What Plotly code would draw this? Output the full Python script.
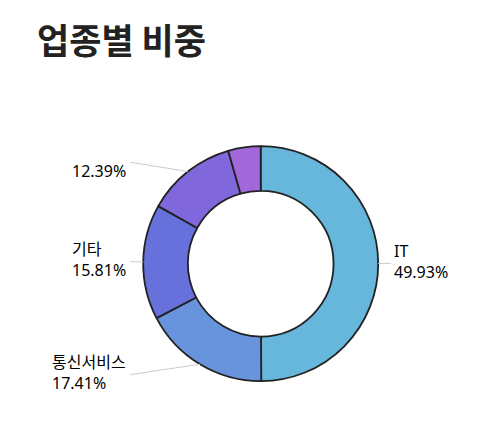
import math

import plotly.graph_objects as go

# slice data (percent of total)
sectors = ["IT", "통신서비스", "기타", "", ""]
shares = [49.93, 17.41, 15.81, 12.39, 4.46]
colors = ["#67b7dc", "#6794dc", "#6771dc", "#8067dc", "#a367dc"]
min_labelled = 5.0  # smaller slices get no label

W, H = 489, 434
PAGE_PAD = 8  # default body margin of the page
cx, cy, r = 260.7, 263.7, 117.5  # donut centre / outer radius in screen px


def px(x):
    return (x - PAGE_PAD) / W


def py(y):
    return 1 - (y - PAGE_PAD) / H


fig = go.Figure(
    go.Pie(
        labels=[s if s else f"slice{i}" for i, s in enumerate(sectors)],
        values=shares,
        sort=False,
        direction="clockwise",
        rotation=0,
        hole=0.62,
        textinfo="none",
        marker=dict(colors=colors, line=dict(color="#222222", width=1.8)),
        domain=dict(x=[px(cx - r), px(cx + r)], y=[py(cy + r), py(cy - r)]),
        showlegend=False,
    )
)

# outside labels with leader lines, placed from each slice's mid angle
total = sum(shares)
start = 0.0
annotations = []
shapes = []
for name, val in zip(sectors, shares):
    mid = math.radians((start + val / 2) / total * 360)
    start += val
    if val < min_labelled:
        continue
    ex, ey = cx + r * math.sin(mid), cy - r * math.cos(mid)
    ly = cy - (r + 12) * math.cos(mid)
    right = math.sin(mid) > 0
    lx = cx + (r + 13) if right else cx - (r + 13)
    shapes.append(
        dict(
            type="line",
            xref="paper",
            yref="paper",
            x0=px(ex),
            y0=py(ey),
            x1=px(lx),
            y1=py(ly),
            line=dict(color="#cccccc", width=1),
        )
    )
    first = name if name else "\u00a0"
    annotations.append(
        dict(
            xref="paper",
            yref="paper",
            x=px(lx),
            y=py(ly),
            text=f"{first}<br>{val:.2f}%",
            showarrow=False,
            xanchor="left" if right else "right",
            yanchor="middle",
            align="left",
            xshift=1 if right else -2,
            yshift=2,
            font=dict(family="Noto Sans, Noto Sans CJK KR", size=16, color="#000000"),
        )
    )

annotations.append(
    dict(
        xref="paper",
        yref="paper",
        x=px(35),
        y=py(39),
        text="<b>업종별 비중</b>",
        showarrow=False,
        xanchor="left",
        yanchor="middle",
        font=dict(family="Noto Sans CJK KR", size=35, color="#222222"),
    )
)

fig.update_layout(
    width=W,
    height=H,
    margin=dict(l=0, r=0, t=0, b=0),
    paper_bgcolor="white",
    plot_bgcolor="white",
    annotations=annotations,
    shapes=shapes,
)

fig.write_html("out.html")
